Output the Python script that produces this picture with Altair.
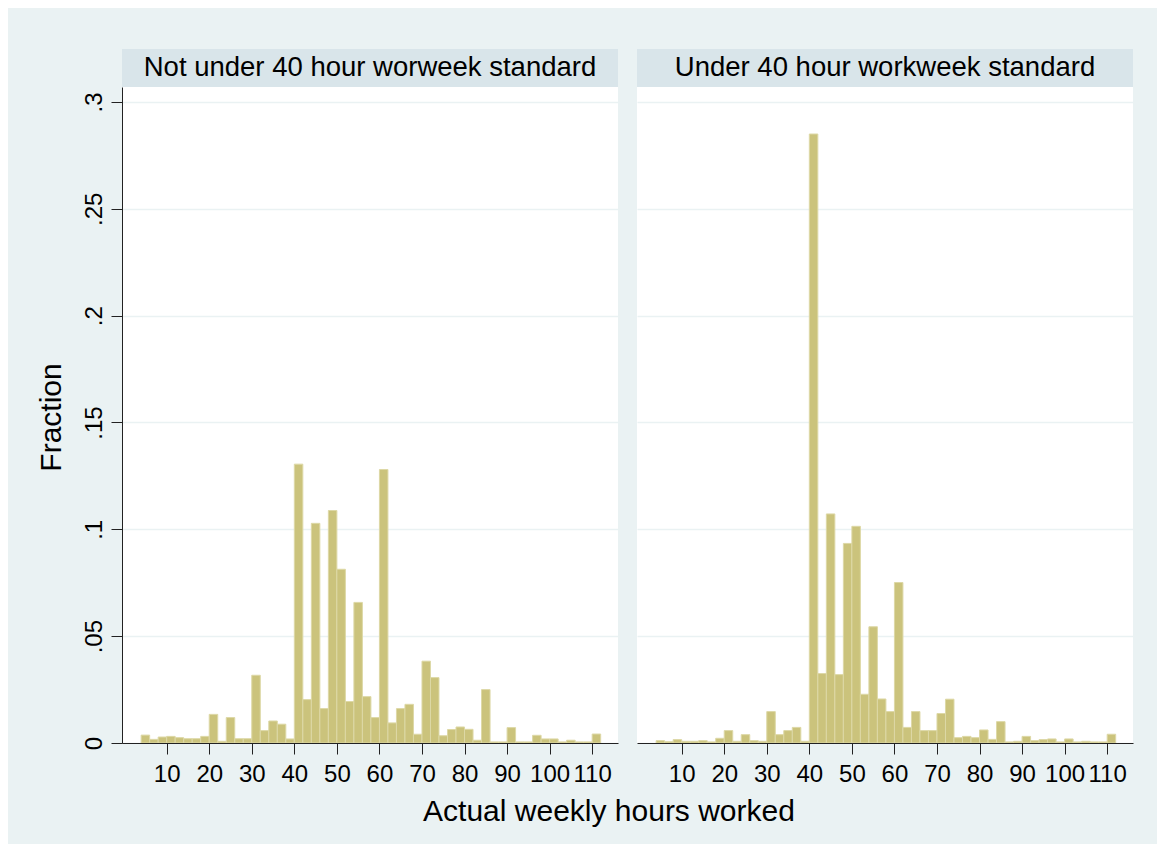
import altair as alt
import pandas as pd

# ---- data ----
bin_start = [4, 6, 8, 10, 12, 14, 16, 18, 20, 22, 24, 26, 28, 30, 32, 34, 36, 38,
             40, 42, 44, 46, 48, 50, 52, 54, 56, 58, 60, 62, 64, 66, 68, 70, 72, 74,
             76, 78, 80, 82, 84, 86, 88, 90, 92, 94, 96, 98, 100, 102, 104, 106, 108, 110]
bin_width = 2

left_frac = [0.0037, 0.0017, 0.0028, 0.0031, 0.0025, 0.0020, 0.0020, 0.0031, 0.0134,
             0.0008, 0.0119, 0.0020, 0.0020, 0.0317, 0.0058, 0.0103, 0.0088, 0.0019,
             0.1305, 0.0203, 0.1028, 0.0161, 0.1088, 0.0813, 0.0194, 0.0658, 0.0217,
             0.0119, 0.1280, 0.0094, 0.0161, 0.0181, 0.0041, 0.0383, 0.0306, 0.0034,
             0.0063, 0.0075, 0.0064, 0.0013, 0.0250, 0.0005, 0.0005, 0.0072, 0.0005,
             0.0005, 0.0036, 0.0019, 0.0019, 0.0005, 0.0013, 0.0005, 0.0005, 0.0042]

right_frac = [0.0011, 0.0006, 0.0016, 0.0008, 0.0008, 0.0011, 0.0005, 0.0022, 0.0058,
              0.0008, 0.0039, 0.0011, 0.0008, 0.0147, 0.0039, 0.0058, 0.0073, 0.0008,
              0.2850, 0.0325, 0.1072, 0.0320, 0.0934, 0.1014, 0.0228, 0.0544, 0.0206,
              0.0147, 0.0751, 0.0073, 0.0147, 0.0058, 0.0058, 0.0138, 0.0205, 0.0025,
              0.0031, 0.0025, 0.0061, 0.0017, 0.0100, 0.0005, 0.0008, 0.0031, 0.0011,
              0.0016, 0.0019, 0.0005, 0.0019, 0.0005, 0.0008, 0.0005, 0.0005, 0.0041]

panel_titles = ["Not under 40 hour worweek standard", "Under 40 hour workweek standard"]
x_ticks = [10, 20, 30, 40, 50, 60, 70, 80, 90, 100, 110]
y_ticks = [0, 0.05, 0.1, 0.15, 0.2, 0.25, 0.3]
x_title = "Actual weekly hours worked"
y_title = "Fraction"

# ---- styling ----
FONT = "Liberation Sans"
W, H = 496, 656
HDR = 38
BG = "#EAF2F3"
HDR_BG = "#D9E5EA"
BAR_FILL = "#CBC37C"
BAR_LINE = "#DDD8A6"
X_DOMAIN = [-0.5, 116.07]
Y_DOMAIN = [0, 0.307]


def panel(values, title, first):
    df = pd.DataFrame({
        "start": bin_start,
        "end": [s + bin_width for s in bin_start],
        "frac": values,
        "base": [0.0] * len(values),
    })
    if first:
        xaxis = alt.Axis(values=x_ticks, title=x_title, titleX=486.5, titleY=77,
                         titleAlign="center", titleBaseline="alphabetic",
                         titleFontSize=30, titleFontWeight="normal", titleFont=FONT,
                         titleColor="black", labelFontSize=24, labelFont=FONT,
                         labelColor="black", labelPadding=8, tickSize=11,
                         tickColor="#222", domainColor="#222", grid=False,
                         labelFlush=False, labelOverlap=False)
        yaxis = alt.Axis(values=y_ticks, title=y_title, titleX=-62, titleY=330,
                         titleAngle=270, titleAlign="center", titleBaseline="alphabetic",
                         titleFontSize=30, titleFontWeight="normal", titleFont=FONT,
                         titleColor="black",
                         labelExpr="datum.value == 0 ? '0' : slice(format(datum.value, '.2~f'), 1)",
                         labelAngle=270, labelAlign="center", labelBaseline="alphabetic",
                         labelFontSize=24, labelFont=FONT, labelColor="black",
                         labelPadding=10, tickSize=11, tickColor="#222",
                         domainColor="#222", grid=True, gridColor=BG, gridWidth=1.6,
                         labelFlush=False, labelOverlap=False)
    else:
        xaxis = alt.Axis(values=x_ticks, title=None, labelFontSize=24, labelFont=FONT,
                         labelColor="black", labelPadding=8, tickSize=11,
                         tickColor="#222", domainColor="#222", grid=False,
                         labelFlush=False, labelOverlap=False)
        yaxis = alt.Axis(values=y_ticks, title=None, labels=False, ticks=False,
                         domain=False, grid=True, gridColor=BG, gridWidth=1.6)

    bars = alt.Chart(df).mark_rect(
        fill=BAR_FILL, stroke=BAR_LINE, strokeWidth=1, clip=True
    ).encode(
        x=alt.X("start:Q", scale=alt.Scale(domain=X_DOMAIN, nice=False, zero=False), axis=xaxis),
        x2="end:Q",
        y=alt.Y("frac:Q", scale=alt.Scale(domain=Y_DOMAIN, nice=False), axis=yaxis),
        y2="base:Q",
    )

    hdr_df = pd.DataFrame({"t": [title]})
    band = alt.Chart(hdr_df).mark_rect(fill=HDR_BG).encode(
        x=alt.value(0), x2=alt.value(W), y=alt.value(-HDR), y2=alt.value(0)
    )
    txt = alt.Chart(hdr_df).mark_text(
        font=FONT, fontSize=27.5, color="black", align="center", baseline="alphabetic"
    ).encode(x=alt.value(W / 2), y=alt.value(-11), text="t:N")

    return alt.layer(band, txt, bars).properties(width=W, height=H)


left = panel(left_frac, panel_titles[0], True)
right = panel(right_frac, panel_titles[1], False)

chart = alt.hconcat(left, right, spacing=19, bounds="flush").properties(
    background=BG,
    padding={"left": 28, "top": 41, "right": 24, "bottom": 18},
).configure_view(stroke=None, fill="white")

chart.save("out.html", embed_options={"renderer": "svg", "actions": False})
